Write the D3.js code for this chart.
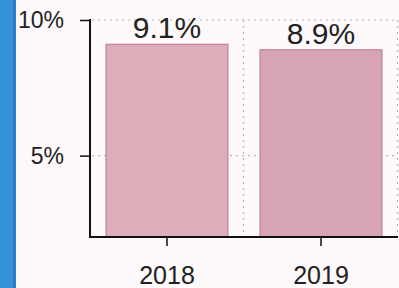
<!DOCTYPE html>
<html><head><meta charset="utf-8">
<script src="https://cdn.jsdelivr.net/npm/d3@7"></script>
<style>
html,body{margin:0;padding:0;background:#fdf8f9;}
svg{display:block;font-family:"Liberation Sans",Arial,sans-serif;}
</style></head>
<body>
<svg id="c" width="399" height="288"></svg>
<script>
const categories = ["2018", "2019"];
const values = [9.1, 8.9];
const valueLabels = ["9.1%", "8.9%"];
const yTicks = [5, 10];
const yTickLabels = ["5%", "10%"];
const barFills = ["#ddadba", "#d6a4b2"];

const svg = d3.select("#c");
// blue strip at left edge
svg.append("rect").attr("x",0).attr("y",0).attr("width",15).attr("height",288).attr("fill","#3592d9");
svg.append("rect").attr("x",13).attr("y",0).attr("width",3).attr("height",288).attr("fill","#2a7cc4");

const x = d3.scaleBand().domain(categories).range([90, 398]).paddingInner(0.21).paddingOuter(0.105);
const y = d3.scaleLinear().domain([2, 10]).range([237, 20]);

// gridlines
const grid = svg.append("g").attr("stroke","#b9b3b6").attr("stroke-width",1.2).attr("stroke-dasharray","2,4");
yTicks.forEach(t=>{
  grid.append("line").attr("x1",92).attr("x2",398).attr("y1",y(t)).attr("y2",y(t));
});
const xb = d3.scaleLinear().domain([0,2]).range([90,398]);
[1,2].forEach(i=>{
  grid.append("line").attr("x1",xb(i)-0.5).attr("x2",xb(i)-0.5).attr("y1",y(10)).attr("y2",y(2));
});

// bars
svg.selectAll("rect.bar").data(values).enter().append("rect")
  .attr("class","bar")
  .attr("x",(d,i)=>x(categories[i]))
  .attr("width",x.bandwidth())
  .attr("y",d=>y(d))
  .attr("height",d=>y(2)-y(d))
  .attr("fill",(d,i)=>barFills[i])
  .attr("stroke","#c58c9c").attr("stroke-width",1.5);

// value labels
svg.selectAll("text.val").data(values).enter().append("text")
  .attr("class","val")
  .attr("x",(d,i)=>x(categories[i])+x.bandwidth()/2)
  .attr("y",d=>y(d)-6)
  .attr("text-anchor","middle")
  .attr("font-size",30)
  .attr("fill","#222")
  .text((d,i)=>valueLabels[i]);

// y axis
const yAxis = d3.axisLeft(y).tickValues(yTicks).tickSize(10).tickPadding(16)
  .tickFormat((d,i)=>yTickLabels[i]);
const gy = svg.append("g").attr("transform","translate(90,0)").call(yAxis);
gy.select(".domain").remove();
gy.append("line").attr("x1",0).attr("x2",0).attr("y1",y(10)-1).attr("y2",y(2)+1).attr("stroke","#111").attr("stroke-width",2);
gy.selectAll(".tick line").attr("stroke","#111").attr("stroke-width",1.5);
gy.selectAll(".tick text").attr("font-size",23).attr("fill","#222").attr("font-family","Liberation Sans, Arial, sans-serif");

// x axis
const xAxis = d3.axisBottom(x).tickSize(9).tickPadding(20);
const gx = svg.append("g").attr("transform","translate(0,237)").call(xAxis);
gx.select(".domain").remove();
gx.append("line").attr("x1",89).attr("x2",398).attr("y1",0).attr("y2",0).attr("stroke","#111").attr("stroke-width",2);
gx.selectAll(".tick line").attr("stroke","#111").attr("stroke-width",1.5);
gx.selectAll(".tick text").attr("font-size",25).attr("fill","#222").attr("font-family","Liberation Sans, Arial, sans-serif");
</script>
</body></html>
